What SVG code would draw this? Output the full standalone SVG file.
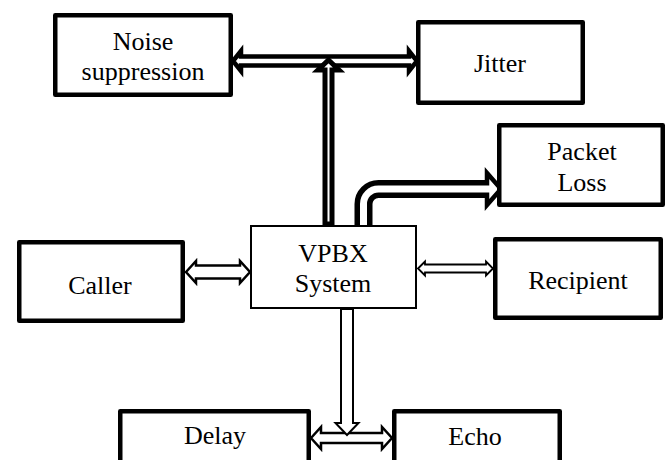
<svg xmlns="http://www.w3.org/2000/svg" width="669" height="460" viewBox="0 0 669 460">
<style>
.box{fill:#fff;stroke:#000;stroke-width:4.5;stroke-linejoin:round}
.thin{fill:#fff;stroke:#000;stroke-width:2}
text{font-family:'Liberation Serif','Times New Roman',serif;font-size:26px;fill:#000;text-anchor:middle}
.arr{fill:#fff;stroke:#000;stroke-linejoin:miter}
</style>
<rect width="669" height="460" fill="#fff"/>
<g id="connectors">
  <polygon class="arr" stroke-width="4.5" points="233,61 241,51 241,56.5 409,56.5 409,51 417,61 409,71 409,65.5 241,65.5 241,71"/>
  <polygon class="arr" stroke-width="5" points="328.5,60 339,70 332,70 332,224 325,224 325,70 318,70"/>
  <path d="M363.5,226 V204 A15,15 0 0 1 378.5,189 H489" fill="none" stroke="#000" stroke-width="18"/>
  <polygon class="arr" stroke-width="4.5" stroke-linejoin="round" points="487,173 501,189 487,205"/>
  <path d="M363.5,225 V204 A15,15 0 0 1 378.5,189 H492" fill="none" stroke="#fff" stroke-width="7"/>
  <polygon class="arr" stroke-width="2.5" points="186,272 196,261 196,265.5 240,265.5 240,261 250,272 240,283 240,278.5 196,278.5 196,283"/>
  <polygon class="arr" stroke-width="1.8" points="418,268.5 425,261.5 425,264.5 486,264.5 486,261.5 493,268.5 486,275.5 486,272.5 425,272.5 425,275.5"/>
  <polygon class="arr" stroke-width="2.5" points="311,438 321,427 321,433 382,433 382,427 392,438 382,449 382,443 321,443 321,449"/>
  <polygon class="arr" stroke-width="2" points="341,309 353,309 353,423 358.5,423 347,435 335.5,423 341,423"/>
</g>
<g id="noise">
  <rect class="box" x="55.25" y="15.25" width="175.5" height="79.5"/>
  <text x="143" y="50">Noise</text>
  <text x="143" y="80">suppression</text>
</g>
<g id="jitter">
  <rect class="box" x="418.25" y="22.25" width="164.5" height="80.5"/>
  <text x="500" y="72">Jitter</text>
</g>
<g id="packetloss">
  <rect class="box" x="499.25" y="125.25" width="163.5" height="79.5"/>
  <text x="582" y="160">Packet</text>
  <text x="582" y="191">Loss</text>
</g>
<g id="vpbx">
  <rect class="thin" x="251" y="226" width="165" height="82"/>
  <text x="333" y="262">VPBX</text>
  <text x="333" y="292">System</text>
</g>
<g id="caller">
  <rect class="box" x="19.25" y="242.25" width="163.5" height="78.5"/>
  <text x="100" y="294">Caller</text>
</g>
<g id="recipient">
  <rect class="box" x="495.25" y="239.25" width="165.5" height="78.5"/>
  <text x="578" y="289">Recipient</text>
</g>
<g id="delay">
  <rect class="box" x="120.25" y="411.25" width="188.5" height="60"/>
  <text x="215" y="444">Delay</text>
</g>
<g id="echo">
  <rect class="box" x="394.25" y="411.25" width="165.5" height="60"/>
  <text x="475" y="445">Echo</text>
</g>
</svg>
